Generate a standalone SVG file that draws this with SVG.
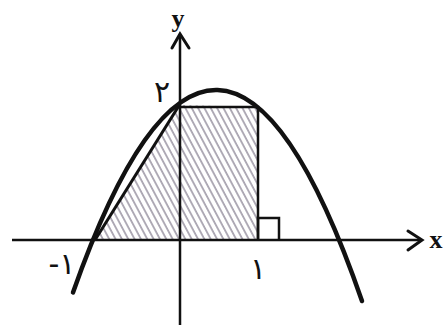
<svg xmlns="http://www.w3.org/2000/svg" width="443" height="327" viewBox="0 0 443 327">
<defs>
<pattern id="hatch" patternUnits="userSpaceOnUse" width="5.6" height="6" patternTransform="rotate(-28)">
<line x1="1" y1="0" x2="1" y2="6" stroke="#a9a4b0" stroke-width="1.8"/>
</pattern>
</defs>
<style>
.ax{stroke:#111;stroke-width:2.5;fill:none}
.arr{stroke:#111;stroke-width:3;fill:none;stroke-linecap:round;stroke-linejoin:miter}
.lab{font-family:"Liberation Serif",serif;font-weight:bold;font-size:26px;fill:#111}
.num{font-family:"DejaVu Sans",sans-serif;font-size:30px;fill:#111}
</style>
<rect width="443" height="327" fill="#fff"/>
<g id="region">
<polygon points="95,240 180,105 258,107 258,240 180,240" fill="url(#hatch)" stroke="none"/>
<line x1="95" y1="240" x2="180" y2="104" stroke="#111" stroke-width="3"/>
<polyline points="180,107 258,107 258,240" class="ax"/>
<polyline points="258,240 258,218 279,218 279,240" class="ax" stroke-width="2"/>
</g>
<g id="connectors">
<line x1="12" y1="240" x2="421" y2="240" class="ax"/>
<polyline points="408,231 422,240 408,250" class="arr"/>
<line x1="180" y1="34" x2="180" y2="325" class="ax"/>
<polyline points="172,48 180,34 189,48" class="arr"/>
</g>
<g id="parabola">
<path d="M73,292.4 Q217.5,-116.7 362,301" fill="none" stroke="#111" stroke-width="4.5" stroke-linecap="round"/>
</g>
<g id="labels">
<text x="178" y="27" class="lab" text-anchor="middle">y</text>
<text x="436" y="248" class="lab" text-anchor="middle">x</text>
<text x="162" y="102" class="num" text-anchor="middle">۲</text>
<text x="62" y="274" class="num" text-anchor="middle">-۱</text>
<text x="258" y="279" class="num" text-anchor="middle">۱</text>
</g>
</svg>
